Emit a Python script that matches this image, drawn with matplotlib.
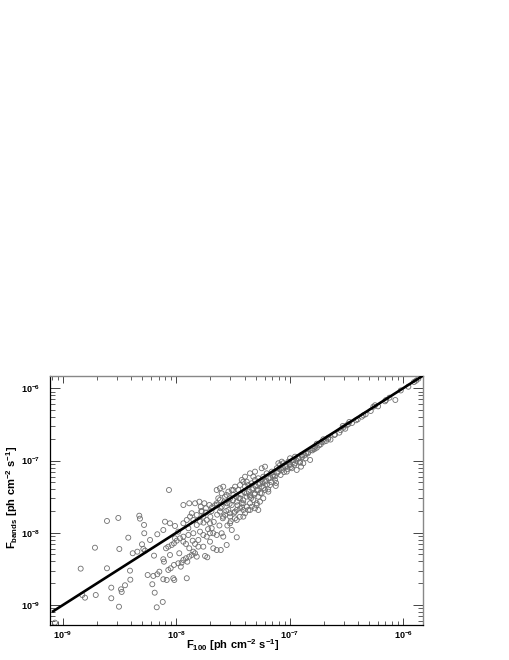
import numpy as np
import matplotlib
matplotlib.use("Agg")
import matplotlib.pyplot as plt
from matplotlib.ticker import LogLocator, FixedLocator, FuncFormatter, NullFormatter

plt.rcParams['font.family'] = ['Liberation Sans', 'DejaVu Sans']
plt.rcParams['mathtext.fontset'] = 'custom'
plt.rcParams['mathtext.rm'] = 'Liberation Sans:bold'
plt.rcParams['mathtext.it'] = 'Liberation Sans:bold'
plt.rcParams['mathtext.bf'] = 'Liberation Sans:bold'

# log10 of F100 [ph cm^-2 s^-1]
log_f100 = [
    -9.071, -8.844, -8.830, -8.806, -8.711, -8.718, -8.612, -8.612, -8.574, -8.574,
    -8.512, -8.503, -8.506, -8.488, -8.482, -8.453, -8.424, -8.409, -8.406, -8.385,
    -8.344, -8.327, -8.321, -8.303, -8.291, -8.285, -8.283, -8.276, -8.253, -8.232,
    -8.212, -8.203, -8.197, -8.191, -8.173, -8.168, -8.168,
    -8.120, -8.150, -8.115, -8.085, -8.027, -8.018, -7.908, -8.115, -8.109, -8.071,
    -8.050, -8.021, -7.983, -7.961, -7.953, -7.938, -7.915, -7.903, -7.886, -7.864,
    -7.850, -7.835, -7.820, -8.091, -8.071, -8.041, -8.021, -7.997, -7.938, -7.915,
    -7.856, -7.835, -7.762, -7.747, -7.727, -7.703, -7.674, -7.644, -7.608, -7.556,
    -7.467, -7.806, -7.886, -8.056, -7.974, -7.600, -7.511, -7.644, -7.674, -7.586,
    -8.065, -7.938, -7.886, -7.835, -7.797, -7.785, -7.753, -7.738, -7.709, -7.685,
    -8.100, -8.056, -8.012, -7.938, -7.908, -7.879, -7.864, -7.820, -7.776, -7.762,
    -7.732, -7.703, -7.688, -7.791, -7.762, -7.732, -7.703, -7.806, -8.115, -7.938,
    -7.968, -8.012, -7.894, -7.850, -7.850, -7.820, -7.791, -7.894, -7.983,
    -7.644, -7.615, -7.586, -7.600, -7.630, -7.570, -7.541, -7.511, -7.526, -7.497,
    -7.482, -7.453, -7.556, -7.511, -7.467, -7.438, -7.423, -7.600, -7.541, -7.482,
    -7.438, -7.409, -7.394, -7.526, -7.482, -7.570, -7.615, -7.644,
    -7.379, -7.365, -7.335, -7.306, -7.291, -7.277, -7.350,
    -7.409, -7.394, -7.365, -7.335, -7.321, -7.306, -7.277, -7.262, -7.247, -7.233,
    -7.218, -7.203, -7.188, -7.173, -7.158, -7.144, -7.129, -7.379, -7.350, -7.306,
    -7.277, -7.247, -7.218, -7.188, -7.321, -7.262, -7.233,
    -7.423, -7.394, -7.350, -7.306, -7.247, -7.218,
    -7.114, -7.100, -7.085, -7.070, -7.056, -7.041, -7.026, -7.012, -6.997, -6.982,
    -6.968, -6.953, -6.938, -6.924, -6.909, -6.894, -6.880, -6.900, -6.953, -6.997,
    -7.070, -7.100, -7.123,
    -7.615, -7.556, -7.497, -7.438, -7.379, -7.321, -7.586, -7.526, -7.467, -7.409,
    -7.350, -7.291, -7.526, -7.467, -7.409, -7.350, -7.291, -7.644,
    -5.865, -5.885, -5.903, -5.953, -6.068, -6.150, -6.159, -6.247, -6.262, -6.285,
    -6.350, -6.364, -6.415, -6.474, -6.483, -6.497, -6.532, -6.527, -6.562, -6.606,
    -6.659, -6.679, -6.703, -6.717, -6.726, -6.761, -6.761, -6.776, -6.791, -6.814,
    -6.835, -6.856, -6.820,
    -7.45, -7.43, -7.41, -7.40, -7.38, -7.36, -7.34, -7.33, -7.31, -7.30,
    -7.28, -7.27, -7.26, -7.24, -7.23, -7.21, -7.20, -7.19, -7.17, -7.16,
    -7.15, -7.13, -7.12, -7.11, -7.09, -7.08, -7.06, -7.05, -7.03, -7.02,
    -7.00, -6.99, -6.97, -6.96, -6.94, -6.92, -6.91, -6.89, -6.87, -6.86,
    -6.84, -6.80, -6.78, -6.74, -6.70, -6.66, -6.64, -6.60, -6.55, -6.51,
    -6.45, -6.40, -6.33, -6.22, -6.12, -6.02,
    -7.78, -7.76, -7.74, -7.72, -7.70, -7.69, -7.67, -7.66, -7.64, -7.62,
    -7.61, -7.59, -7.58, -7.56, -7.55, -7.53, -7.52, -7.50, -7.49, -7.47,
    -7.46, -7.44, -7.42,
]

# log10 of F_bands [ph cm^-2 s^-1]
log_fbands = [
    -9.245, -8.497, -8.862, -8.899, -8.862, -8.207, -7.837, -8.492, -8.760, -8.907,
    -7.795, -8.225, -9.024, -8.783, -8.820, -8.727, -8.068, -8.525, -8.650, -8.284,
    -8.262, -7.764, -7.805, -8.160, -8.225, -7.892, -8.007, -8.248, -8.585, -8.100,
    -8.713, -8.598, -8.317, -8.830, -9.032, -8.021, -8.575,
    -8.958, -8.539, -8.644, -8.654, -8.630, -8.654, -8.630, -8.367, -8.401, -8.515,
    -8.492, -8.446, -8.423, -8.470, -8.414, -8.377, -8.353, -8.401, -8.331, -8.308,
    -8.262, -8.284, -8.331, -8.215, -8.193, -8.169, -8.146, -8.110, -8.124, -8.155,
    -8.110, -8.155, -8.193, -8.322, -8.340, -8.124, -8.215, -8.239, -8.239, -8.169,
    -8.063, -8.193, -8.215, -8.308, -8.284, -8.007, -7.962, -8.031, -8.007, -8.054,
    -7.408, -7.616, -7.592, -7.592, -7.570, -7.639, -7.592, -7.661, -7.616, -7.647,
    -7.847, -7.869, -7.906, -7.869, -7.823, -7.777, -7.730, -7.754, -7.708, -7.777,
    -7.823, -7.869, -7.938, -7.985, -8.031, -8.054, -8.007, -8.100, -7.962, -8.054,
    -8.077, -8.077, -8.031, -8.007, -7.823, -7.892, -7.847, -7.938, -7.985,
    -7.408, -7.384, -7.362, -7.454, -7.523, -7.501, -7.431, -7.408, -7.523, -7.477,
    -7.362, -7.408, -7.592, -7.616, -7.570, -7.523, -7.592, -7.639, -7.685, -7.708,
    -7.661, -7.685, -7.730, -7.777, -7.800, -7.754, -7.708, -7.616,
    -7.639, -7.685, -7.639, -7.661, -7.616, -7.685, -7.592,
    -7.293, -7.362, -7.339, -7.315, -7.384, -7.269, -7.246, -7.315, -7.362, -7.224,
    -7.293, -7.177, -7.246, -7.339, -7.154, -7.224, -7.269, -7.454, -7.477, -7.454,
    -7.501, -7.454, -7.408, -7.431, -7.546, -7.570, -7.523,
    -7.269, -7.224, -7.177, -7.154, -7.107, -7.085,
    -7.107, -7.154, -7.062, -7.131, -7.038, -7.085, -7.154, -7.016, -7.062, -7.107,
    -6.992, -7.038, -7.131, -6.969, -7.016, -6.923, -7.038, -7.085, -6.947, -6.969,
    -7.016, -7.038, -7.352,
    -7.546, -7.477, -7.408, -7.339, -7.293, -7.224, -7.777, -7.730, -7.685, -7.592,
    -7.501, -7.408, -7.869, -7.823, -7.777, -7.685, -7.592, -7.592,
    -5.867, -5.895, -5.913, -5.978, -6.162, -6.162, -6.180, -6.235, -6.255, -6.314,
    -6.374, -6.393, -6.443, -6.466, -6.498, -6.512, -6.522, -6.545, -6.614, -6.646,
    -6.684, -6.729, -6.706, -6.743, -6.775, -6.767, -6.822, -6.808, -6.836, -6.854,
    -6.882, -6.900, -6.992,
    -7.52, -7.47, -7.55, -7.44, -7.50, -7.43, -7.52, -7.40, -7.47, -7.36,
    -7.41, -7.33, -7.45, -7.30, -7.38, -7.28, -7.33, -7.40, -7.24, -7.30,
    -7.20, -7.22, -7.31, -7.17, -7.12, -7.20, -7.10, -7.16, -7.08, -7.12,
    -7.05, -7.09, -7.02, -7.06, -7.00, -6.97, -7.03, -6.95, -6.93, -6.97,
    -6.90, -6.86, -6.84, -6.79, -6.74, -6.70, -6.71, -6.64, -6.58, -6.56,
    -6.48, -6.43, -6.36, -6.25, -6.13, -6.03,
    -7.70, -7.86, -7.72, -7.95, -7.78, -7.70, -7.85, -7.62, -7.75, -7.90,
    -7.66, -7.80, -7.58, -7.70, -7.90, -7.60, -7.84, -7.55, -7.72, -7.50,
    -7.62, -7.78, -7.65,
]

# one-to-one reference line (F_bands = F100)
line_f100 = [8.0e-10, 1.5e-6]
line_fbands = [8.0e-10, 1.5e-6]

major_ticks = [1e-9, 1e-8, 1e-7, 1e-6]
x_limits = (7.68e-10, 1.50e-6)
y_limits = (5.28e-10, 1.494e-6)

f100 = 10.0 ** np.array(log_f100)
fbands = 10.0 ** np.array(log_fbands)

fig = plt.figure(figsize=(5.1, 6.6), dpi=100)
ax = fig.add_axes([0.09804, 0.05303, 0.73137, 0.37773])

ax.scatter(f100, fbands, s=13, facecolors='none', edgecolors='#6e6e6e',
           linewidths=0.6, zorder=2, clip_on=True)
ax.plot(line_f100, line_fbands, color='black', lw=1.9, zorder=3,
        solid_capstyle='butt')

ax.set_xscale('log')
ax.set_yscale('log')
ax.set_xlim(*x_limits)
ax.set_ylim(*y_limits)

fmt = FuncFormatter(lambda v, p: r'$\mathbf{10^{%d}}$' % int(round(np.log10(v))))
for axis in (ax.xaxis, ax.yaxis):
    axis.set_major_locator(FixedLocator(major_ticks))
    axis.set_minor_locator(LogLocator(base=10, subs=np.arange(2, 10), numticks=20))
    axis.set_major_formatter(fmt)
    axis.set_minor_formatter(NullFormatter())

ax.tick_params(axis='x', which='major', direction='in', length=5.0, width=0.7,
               color='#444444', top=True, labelsize=6.5, pad=3)
ax.tick_params(axis='x', which='minor', direction='in', length=2.6, width=0.6,
               color='#444444', top=True)
ax.tick_params(axis='y', which='major', direction='in', length=7.5, width=0.7,
               color='#444444', right=True, labelsize=6.5, pad=7)
ax.tick_params(axis='y', which='minor', direction='in', length=3.8, width=0.6,
               color='#444444', right=True)

for side in ('bottom', 'left'):
    ax.spines[side].set_color('black')
    ax.spines[side].set_linewidth(0.9)
for side in ('top', 'right'):
    ax.spines[side].set_color('#888888')
    ax.spines[side].set_linewidth(1.0)

fig.text(232.5 / 510, 1 - 645.5 / 660,
         r'$\mathbf{F_{100}\ [ph\ cm^{-2}\ s^{-1}]}$',
         fontsize=8.0, ha='center', va='center')
fig.text(12.5 / 510, 1 - 497.5 / 660,
         r'$\mathbf{F_{bands}\ [ph\ cm^{-2}\ s^{-1}]}$',
         fontsize=8.0, ha='center', va='center', rotation=90)

fig.savefig('out.png', dpi=100)
